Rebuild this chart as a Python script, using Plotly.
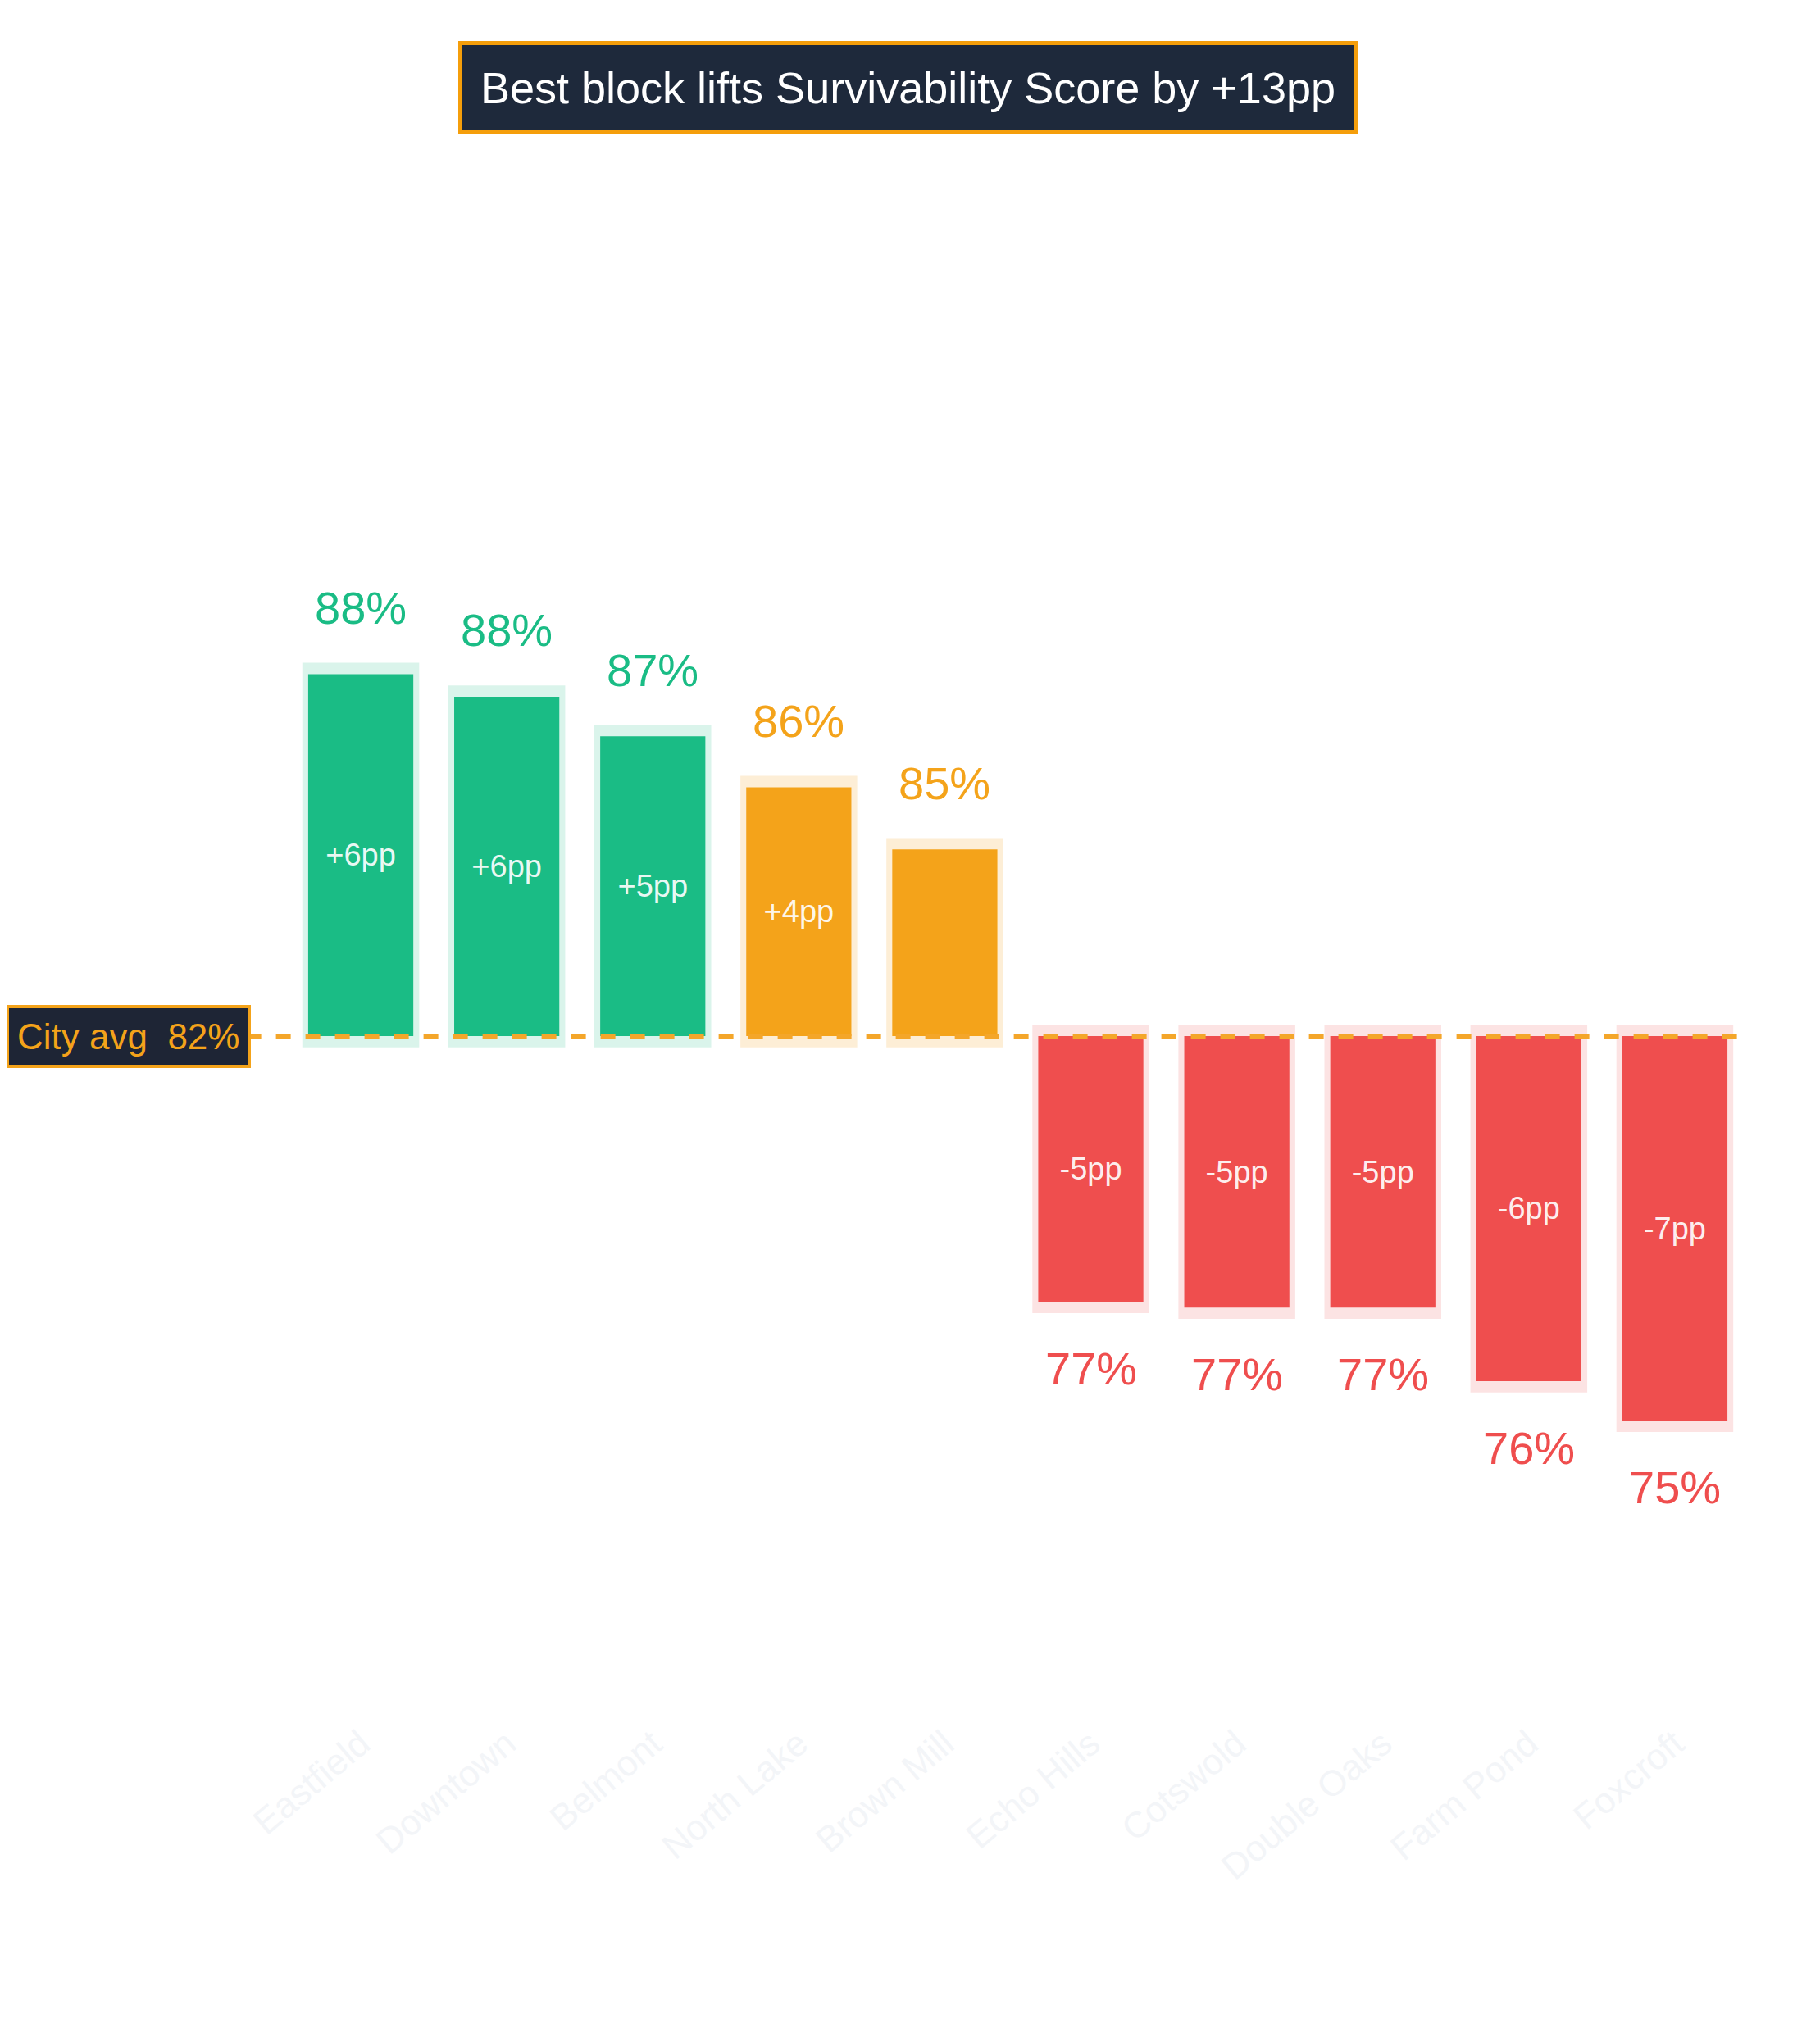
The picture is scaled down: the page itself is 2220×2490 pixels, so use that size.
import plotly.graph_objects as go

categories = ["Eastfield","Downtown","Belmont","North Lake","Brown Mill","Echo Hills","Cotswold","Double Oaks","Farm Pond","Foxcroft"]
values = [88.4, 88.0, 87.3, 86.4, 85.3, 77.3, 77.2, 77.2, 75.9, 75.2]
inner_labels = ["+6pp","+6pp","+5pp","+4pp","","-5pp","-5pp","-5pp","-6pp","-7pp"]
value_labels = ["88%","88%","87%","86%","85%","77%","77%","77%","76%","75%"]
city_avg = 82.0

GREEN, ORANGE, RED = "#1ABC85", "#F4A31A", "#EF4E4E"
TINT = {GREEN: "rgba(26,188,133,0.16)", ORANGE: "rgba(244,163,26,0.18)", RED: "rgba(239,78,78,0.16)"}

def col(v):
    d = v - city_avg
    if d >= 5: return GREEN
    if d >= 0: return ORANGE
    return RED

colors = [col(v) for v in values]
diffs = [v - city_avg for v in values]
pad = 0.2
tint_base = [city_avg - pad if d >= 0 else city_avg + pad for d in diffs]
tint_y = [d + 2*pad if d >= 0 else d - 2*pad for d in diffs]

fig = go.Figure()
fig.add_trace(go.Bar(x=categories, y=tint_y, base=tint_base, width=0.8,
                     marker=dict(color=[TINT[c] for c in colors], line_width=0),
                     hoverinfo="skip", showlegend=False))
fig.add_trace(go.Bar(x=categories, y=diffs, base=[city_avg]*len(values), width=0.72,
                     marker=dict(color=colors, line_width=0),
                     text=inner_labels, textposition="inside", insidetextanchor="middle",
                     textfont=dict(color="rgba(255,255,255,0.92)", size=38),
                     showlegend=False))

for c, v, lab, colr in zip(categories, values, value_labels, colors):
    up = v >= city_avg
    fig.add_annotation(x=c, y=v + (pad if up else -pad), text=lab, showarrow=False,
                       yanchor="bottom" if up else "top", yshift=34 if up else -34,
                       font=dict(size=56, color=colr))

fig.add_shape(type="line", xref="paper", yref="y", x0=-0.19, x1=1.0, y0=city_avg, y1=city_avg,
              line=dict(color="#F4A62A", width=6, dash="dash"), layer="above")

fig.add_annotation(xref="paper", yref="y", x=-0.193, y=city_avg, xanchor="left", text="City avg  82%",
                   showarrow=False, font=dict(size=44, color="#F4A31A"), bgcolor="#1E2535",
                   bordercolor="#F4A31A", borderwidth=4, borderpad=10)

fig.add_annotation(xref="paper", yref="paper", x=0.425, y=1.345, text="Best block lifts Survivability Score by +13pp",
                   showarrow=False, font=dict(size=54, color="white"), bgcolor="#1E293B",
                   bordercolor="#F59E0B", borderwidth=5, borderpad=22)

fig.update_layout(width=2220, height=2490, barmode="overlay",
                  plot_bgcolor="white", paper_bgcolor="white",
                  margin=dict(l=343, r=96, t=566, b=406),
                  font=dict(family="Liberation Sans, Arial, sans-serif"),
                  xaxis=dict(showgrid=False, zeroline=False, showline=False, tickangle=-40,
                             tickfont=dict(size=44, color="#F3F5F8"), ticks=""),
                  yaxis=dict(range=[70, 92], visible=False))

fig.write_html("out.html")
